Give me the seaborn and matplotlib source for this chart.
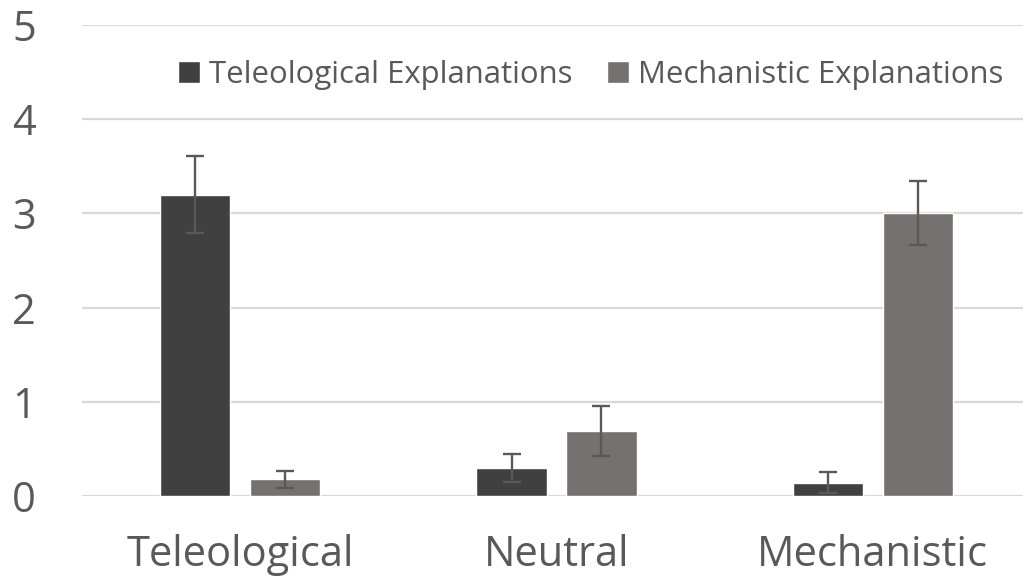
import seaborn as sns
import matplotlib.pyplot as plt
import pandas as pd

# data
categories = ['Teleological', 'Neutral', 'Mechanistic']
series = ['Teleological Explanations', 'Mechanistic Explanations']
teleological_vals = [3.2, 0.3, 0.14]
teleological_err = [0.41, 0.15, 0.11]
mechanistic_vals = [0.18, 0.69, 3.0]
mechanistic_err = [0.09, 0.27, 0.34]
y_ticks = [0, 1, 2, 3, 4, 5]

df = pd.DataFrame({
    'category': categories * 2,
    'series': [series[0]] * 3 + [series[1]] * 3,
    'value': teleological_vals + mechanistic_vals,
    'err': teleological_err + mechanistic_err,
})

sns.set_theme(style='white')
plt.rcParams['font.family'] = ['Open Sans', 'DejaVu Sans']

fig = plt.figure(figsize=(10.23, 5.85), dpi=100)
ax = fig.add_axes([82 / 1023, 89 / 585, (1031 - 82) / 1023, 471 / 585])

palette = {series[0]: '#404040', series[1]: '#767171'}
sns.barplot(data=df, x='category', y='value', hue='series', order=categories,
            hue_order=series, palette=palette, width=0.569, gap=0.222,
            saturation=1, errorbar=None, ax=ax, legend=True, zorder=2)

# error bars at the centres of the drawn bars
bars = ax.patches[:6]
for bar, (_, row) in zip(bars, df.iterrows()):
    cx = bar.get_x() + bar.get_width() / 2
    ax.errorbar(cx, row['value'], yerr=row['err'], fmt='none', ecolor='#595959',
                elinewidth=1.7, capsize=6.5, capthick=1.7, zorder=3)

ax.set_ylim(0, 5)
ax.set_xlim(-0.5, 2.5)
ax.set_yticks(y_ticks)
ax.yaxis.grid(True, color='#d9d9d9', linewidth=1.6, zorder=0)
ax.set_axisbelow(True)
for s in ax.spines.values():
    s.set_visible(False)
ax.set_xlabel('')
ax.set_ylabel('')
ax.tick_params(axis='y', length=0, pad=33, labelsize=30, labelcolor='#595959')
ax.tick_params(axis='x', length=0, pad=27, labelsize=30, labelcolor='#595959')

ax.legend(ncol=2, frameon=False, loc='center left', bbox_to_anchor=(150 / 1023, 1 - 75 / 585),
          bbox_transform=fig.transFigure, fontsize=22.4, labelcolor='#595959',
          handlelength=0.7, handleheight=0.7, handletextpad=0.3, columnspacing=1.1)

fig.savefig('out.png', dpi=100)
